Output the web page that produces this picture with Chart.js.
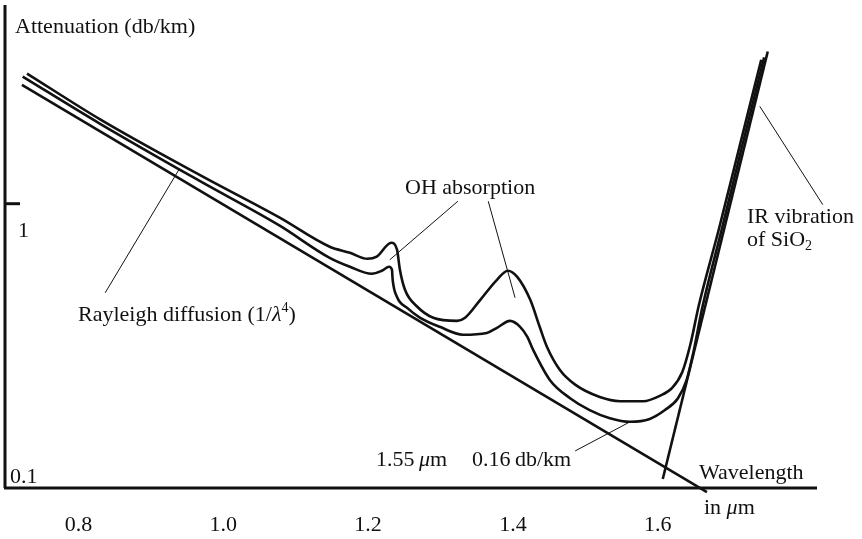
<!DOCTYPE html>
<html>
<head>
<meta charset="utf-8">
<title>Fiber attenuation</title>
<script src="https://cdn.jsdelivr.net/npm/chart.js@4.4.1/dist/chart.umd.min.js"></script>
<style>
    html, body { margin: 0; padding: 0; background: #fff; }
    #wrap { width: 862px; height: 539px; }
</style>
</head>
<body>
<div id="wrap"><canvas id="fiberChart" width="862" height="539"></canvas></div>
<script>
// Tick values
const wavelengthTicks = [0.8, 1.0, 1.2, 1.4, 1.6];
const attenuationTicks = [0.1, 1];

// Upper fiber curve (um, db/km)
const upperWavelength = [0.729, 0.830, 0.968, 1.078, 1.147, 1.175, 1.199, 1.212, 1.232, 1.240, 1.244, 1.251,
    1.268, 1.290, 1.323, 1.334, 1.355, 1.378, 1.393, 1.406, 1.424, 1.437, 1.447, 1.465, 1.486, 1.520,
    1.548, 1.580, 1.603, 1.620, 1.634, 1.645, 1.657, 1.685, 1.712, 1.743];
const upperAttenuation = [2.87, 1.98, 1.26, 0.893, 0.706, 0.672, 0.640, 0.651, 0.729, 0.689, 0.586, 0.498,
    0.434, 0.397, 0.387, 0.397, 0.459, 0.540, 0.581, 0.553, 0.459, 0.369, 0.314, 0.260, 0.231, 0.209,
    0.202, 0.202, 0.211, 0.225, 0.256, 0.319, 0.441, 0.823, 1.55, 3.21];

// Lower fiber curve
const lowerWavelength = [0.723, 0.830, 0.968, 1.078, 1.147, 1.175, 1.205, 1.219, 1.229, 1.233, 1.234, 1.240,
    1.254, 1.272, 1.299, 1.331, 1.364, 1.378, 1.396, 1.410, 1.420, 1.428, 1.451, 1.479, 1.506, 1.534,
    1.562, 1.589, 1.610, 1.628, 1.640, 1.650, 1.661, 1.689, 1.716, 1.747];
const lowerAttenuation = [2.80, 1.91, 1.20, 0.837, 0.645, 0.600, 0.567, 0.581, 0.600, 0.586, 0.540, 0.470,
    0.430, 0.397, 0.369, 0.346, 0.351, 0.366, 0.387, 0.369, 0.340, 0.306, 0.240, 0.207, 0.188, 0.176,
    0.171, 0.175, 0.188, 0.207, 0.240, 0.306, 0.424, 0.823, 1.57, 3.27];

// Rayleigh limit and IR absorption
const rayleighWavelength = [0.722, 1.668];
const rayleighAttenuation = [2.62, 0.0968];
const irWavelength = [1.607, 1.752];
const irAttenuation = [0.1076, 3.43];

// Leader lines for the labels
const leaderWavelengths = [[0.939, 0.837], [1.324, 1.230], [1.366, 1.403], [1.741, 1.828], [1.486, 1.562]];
const leaderAttenuations = [[1.32, 0.486], [1.02, 0.635], [1.02, 0.467], [2.20, 0.992], [0.135, 0.171]];

const FONT = '"Liberation Serif", "Times New Roman", serif';
const INK = '#111';

function toPoints(xs, ys) {
    return xs.map((x, i) => ({ x: x, y: ys[i] }));
}

function lineSet(xs, ys, width, smooth) {
    return {
        data: toPoints(xs, ys),
        showLine: true,
        borderColor: INK,
        borderWidth: width,
        pointRadius: 0,
        fill: false,
        clip: false,
        tension: 0,
        cubicInterpolationMode: smooth ? 'monotone' : 'default'
    };
}

// Text with italic / sub / superscript parts
function drawRich(ctx, x, y, parts) {
    let cx = x;
    parts.forEach(p => {
        const size = p.size || 22;
        ctx.font = (p.italic ? 'italic ' : '') + size + 'px ' + FONT;
        ctx.fillText(p.text, cx, y + (p.shift || 0));
        cx += ctx.measureText(p.text).width;
    });
}

const axesPlugin = {
    id: 'axesPlugin',
    afterDatasetsDraw(chart) {
        const ctx = chart.ctx;
        const area = chart.chartArea;
        const xs = chart.scales.x;
        const ys = chart.scales.y;
        ctx.save();
        ctx.strokeStyle = INK;
        ctx.fillStyle = INK;
        ctx.lineWidth = 3;
        ctx.beginPath();
        ctx.moveTo(area.left - 1, area.top);
        ctx.lineTo(area.left - 1, area.bottom);
        ctx.moveTo(area.left - 2, area.bottom);
        ctx.lineTo(area.right, area.bottom);
        ctx.stroke();

        // y ticks
        ctx.textBaseline = 'middle';
        attenuationTicks.forEach(v => {
            const py = ys.getPixelForValue(v);
            if (v > 0.1) {
                ctx.beginPath();
                ctx.moveTo(area.left - 1, py);
                ctx.lineTo(area.left + 14, py);
                ctx.stroke();
            }
            ctx.font = '22px ' + FONT;
            ctx.textAlign = 'left';
            const label = String(v);
            const ty = v > 0.1 ? py + 28 : py - 11;
            ctx.fillText(label, area.left + (v > 0.1 ? 12 : 4), ty);
        });

        // x ticks
        ctx.textAlign = 'center';
        ctx.font = '22px ' + FONT;
        wavelengthTicks.forEach(v => {
            ctx.fillText(v.toFixed(1), xs.getPixelForValue(v), area.bottom + 37);
        });

        ctx.textAlign = 'left';
        drawRich(ctx, 15, 27, [{ text: 'Attenuation (db/km)' }]);
        drawRich(ctx, 405, 188, [{ text: 'OH absorption' }]);
        drawRich(ctx, 78, 315, [
            { text: 'Rayleigh diffusion (1/' },
            { text: 'λ', italic: true },
            { text: '4', size: 14, shift: -7 },
            { text: ')' }
        ]);
        drawRich(ctx, 747, 217, [{ text: 'IR vibration' }]);
        drawRich(ctx, 747, 240, [{ text: 'of SiO' }, { text: '2', size: 14, shift: 6 }]);
        drawRich(ctx, 376, 460, [{ text: '1.55\u2009' }, { text: 'μ', italic: true }, { text: 'm' }]);
        drawRich(ctx, 472, 460, [{ text: '0.16\u2009db/km' }]);
        drawRich(ctx, 699, 473, [{ text: 'Wavelength' }]);
        drawRich(ctx, 704, 508, [{ text: 'in ' }, { text: 'μ', italic: true }, { text: 'm' }]);
        ctx.restore();
    }
};

const datasets = [
    lineSet(upperWavelength, upperAttenuation, 2.6, true),
    lineSet(lowerWavelength, lowerAttenuation, 2.6, true),
    lineSet(rayleighWavelength, rayleighAttenuation, 2.6, false),
    lineSet(irWavelength, irAttenuation, 2.6, false)
];
leaderWavelengths.forEach((xs, i) => {
    datasets.push(lineSet(xs, leaderAttenuations[i], 1, false));
});

const ctx = document.getElementById('fiberChart').getContext('2d');
new Chart(ctx, {
    type: 'scatter',
    data: { datasets: datasets },
    options: {
        responsive: false,
        animation: false,
        devicePixelRatio: 1,
        layout: { padding: { left: 6, right: 45, top: 5, bottom: 51 } },
        plugins: {
            legend: { display: false },
            tooltip: { enabled: false }
        },
        scales: {
            x: { type: 'linear', min: 0.70, max: 1.82, display: false },
            y: { type: 'logarithmic', min: 0.1, max: 5, display: false }
        }
    },
    plugins: [axesPlugin]
});
</script>
</body>
</html>
